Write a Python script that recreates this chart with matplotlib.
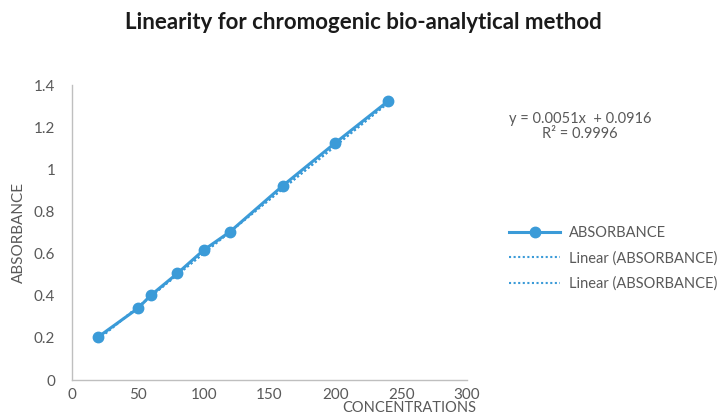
import matplotlib
matplotlib.use("Agg")
import matplotlib.pyplot as plt
import numpy as np

# data
concentrations = [20, 50, 60, 80, 100, 120, 160, 200, 240]
absorbance = [0.205, 0.34, 0.403, 0.506, 0.617, 0.704, 0.922, 1.126, 1.324]
slope = 0.0051
intercept = 0.0916
r_squared = 0.9996
x_ticks = [0, 50, 100, 150, 200, 250, 300]
y_ticks = [0, 0.2, 0.4, 0.6, 0.8, 1, 1.2, 1.4]
y_tick_labels = ["0", "0.2", "0.4", "0.6", "0.8", "1", "1.2", "1.4"]

BLUE = "#3B9BD8"
GREY = "#595959"
plt.rcParams["font.family"] = ["Lato", "DejaVu Sans"]

fig = plt.figure(figsize=(7.19, 4.17), dpi=100, facecolor="white")
ax = fig.add_axes([0.1001, 0.0887, 0.5494, 0.707])

x = np.array(concentrations, dtype=float)
fit = slope * x + intercept
ax.plot(concentrations, absorbance, color=BLUE, lw=2.2, marker="o", ms=7.5,
        label="ABSORBANCE", zorder=3)
ax.plot(x, fit, color=BLUE, lw=1.5, ls=(0, (1, 1.2)), label="Linear (ABSORBANCE)", zorder=2)
ax.plot(x, fit, color=BLUE, lw=1.5, ls=(0, (1, 1.2)), label="Linear (ABSORBANCE)", zorder=2)

ax.set_xlim(0, 300)
ax.set_ylim(0, 1.4)
ax.set_xticks(x_ticks)
ax.set_yticks(y_ticks)
ax.set_yticklabels(y_tick_labels)
ax.tick_params(axis="y", length=0, labelsize=11, colors=GREY, pad=12)
ax.tick_params(axis="x", length=0, labelsize=11, colors=GREY, pad=6)
for side in ("top", "right"):
    ax.spines[side].set_visible(False)
for side in ("left", "bottom"):
    ax.spines[side].set_color("#BFBFBF")
    ax.spines[side].set_linewidth(1)

ax.set_ylabel("ABSORBANCE", fontsize=11, color=GREY, labelpad=6)
fig.text(0.662, 0.004, "CONCENTRATIONS", fontsize=10.5, color=GREY, ha="right", va="bottom")

fig.text(0.505, 0.945, "Linearity for chromogenic bio-analytical method", fontsize=16,
         fontweight="bold", color="#1A1A1A", ha="center", va="center")

fig.text(0.807, 0.715, f"y = {slope}x  + {intercept}", fontsize=10.5, color=GREY,
         ha="center", va="center")
fig.text(0.807, 0.678, f"R² = {r_squared}", fontsize=10.5, color=GREY,
         ha="center", va="center")

fig.legend(loc="center left", bbox_to_anchor=(0.69, 0.38), frameon=False,
           fontsize=10.5, labelcolor=GREY, handlelength=3.5, handletextpad=0.6,
           labelspacing=0.75)

fig.savefig("out.png", dpi=100, facecolor="white")
